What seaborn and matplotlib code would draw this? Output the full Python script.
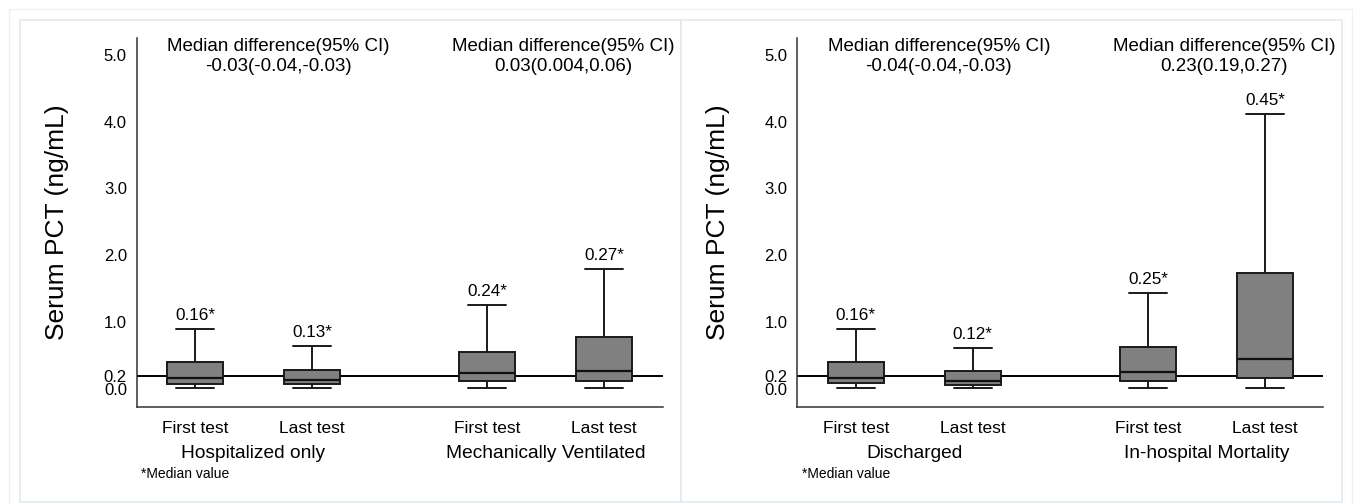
import matplotlib
matplotlib.use("Agg")
import matplotlib.pyplot as plt
from matplotlib.patches import Rectangle
import pandas as pd
import seaborn as sns

# Summary values (ng/mL)
test_labels = ["First test", "Last test", "First test", "Last test"]

left_groups = ["Hospitalized only", "Mechanically Ventilated"]
left_low = [0.01, 0.01, 0.02, 0.01]
left_q1 = [0.08, 0.07, 0.12, 0.12]
left_median = [0.16, 0.13, 0.24, 0.27]
left_q3 = [0.40, 0.29, 0.56, 0.78]
left_high = [0.90, 0.65, 1.26, 1.80]
left_diff = ["-0.03(-0.04,-0.03)", "0.03(0.004,0.06)"]

right_groups = ["Discharged", "In-hospital Mortality"]
right_low = [0.01, 0.01, 0.01, 0.02]
right_q1 = [0.085, 0.06, 0.125, 0.17]
right_median = [0.16, 0.12, 0.25, 0.45]
right_q3 = [0.40, 0.27, 0.63, 1.73]
right_high = [0.90, 0.62, 1.43, 4.12]
right_diff = ["-0.04(-0.04,-0.03)", "0.23(0.19,0.27)"]

y_ticks = [0.0, 0.2, 1.0, 2.0, 3.0, 4.0, 5.0]
reference_line = 0.2

# Layout (box positions on the x axis)
positions = [1, 2, 3.5, 4.5]

W, H = 1354, 504

sns.set_style("white")
plt.rcParams["font.family"] = ["Liberation Sans", "DejaVu Sans"]
plt.rcParams["text.color"] = "black"
plt.rcParams["axes.labelcolor"] = "black"
plt.rcParams["xtick.color"] = "black"
plt.rcParams["ytick.color"] = "black"

fig = plt.figure(figsize=(W / 100, H / 100), dpi=100)
fig.patch.set_facecolor("white")


def px_rect(x0, y0, x1, y1, **kw):
    """Rectangle given in pixel coords (top-left origin)"""
    return Rectangle((x0 / W, 1 - y1 / H), (x1 - x0) / W, (y1 - y0) / H,
                     transform=fig.transFigure, fill=False, **kw)


# Panel frames
frame_color = "#e4eaed"
fig.patches.append(px_rect(9, 9, 1352, 510, lw=1, edgecolor="#eef1f3"))
fig.patches.append(px_rect(20, 20, 680.5, 502, lw=1.2, edgecolor=frame_color))
fig.patches.append(px_rect(681.5, 20, 1342, 502, lw=1.2, edgecolor=frame_color))


def build_frame(low, q1, median, q3, high):
    rows = []
    for i, pos in enumerate(positions):
        for v in (low[i], q1[i], median[i], q3[i], high[i]):
            rows.append({"pos": pos, "value": v})
    return pd.DataFrame(rows)


def draw_panel(ax, low, q1, median, q3, high, groups, diffs):
    df = build_frame(low, q1, median, q3, high)

    # Reference line at 0.2 behind the boxes
    ax.axhline(reference_line, color="black", lw=1.4, zorder=0.5)

    sns.boxplot(
        data=df, x="pos", y="value", native_scale=True,
        whis=(0, 100), width=0.48, color="#808080", saturation=1,
        linecolor="#1a1a1a", linewidth=1.4, fliersize=0,
        capwidths=0.325,
        medianprops={"color": "#111111", "linewidth": 1.6},
        ax=ax,
    )

    ax.set_xlim(0.5, 5.0)
    ax.set_ylim(-0.265, 5.25)

    # Y axis
    ax.set_yticks(y_ticks)
    ax.set_yticklabels([f"{t:.1f}" for t in y_ticks], fontsize=12)
    ax.tick_params(axis="y", length=5, width=1, pad=2, color="#222222")
    ax.set_ylabel("Serum PCT (ng/mL)", fontsize=19)
    ax.yaxis.set_label_coords(-0.128, 0.5)

    # X axis
    ax.set_xticks(positions)
    ax.set_xticklabels(test_labels, fontsize=12.5)
    ax.tick_params(axis="x", length=0, pad=10)
    ax.set_xlabel("")

    for side in ("top", "right"):
        ax.spines[side].set_visible(False)
    for side in ("left", "bottom"):
        ax.spines[side].set_color("#333333")
        ax.spines[side].set_linewidth(1.1)

    # Median value labels above the upper whisker
    for i, pos in enumerate(positions):
        ax.text(pos, high[i] + 0.09, f"{median[i]:.2f}*",
                ha="center", va="bottom", fontsize=12.3)

    # Group labels
    trans = ax.get_xaxis_transform()
    for g, name in enumerate(groups):
        mid = (positions[2 * g] + positions[2 * g + 1]) / 2
        ax.text(mid, -0.128, name, transform=trans,
                ha="center", va="center", fontsize=13.8)
    ax.text(0.008, -0.182, "*Median value", transform=ax.transAxes,
            ha="left", va="center", fontsize=10)

    # Median difference headers
    for g, txt in enumerate(diffs):
        xc = 1.71 if g == 0 else 4.15
        ax.text(xc, 5.12, "Median difference(95% CI)", ha="center",
                va="center", fontsize=13.5, clip_on=False)
        ax.text(xc, 4.82, txt, ha="center", va="center", fontsize=13.5,
                clip_on=False)


ax_left = fig.add_axes([136.6 / W, (H - 406.7) / H, 526 / W, 368.7 / H])
ax_right = fig.add_axes([797.4 / W, (H - 406.7) / H, 526 / W, 368.7 / H])

draw_panel(ax_left, left_low, left_q1, left_median, left_q3, left_high,
           left_groups, left_diff)
draw_panel(ax_right, right_low, right_q1, right_median, right_q3, right_high,
           right_groups, right_diff)

fig.savefig("out.png", dpi=100, facecolor="white")
